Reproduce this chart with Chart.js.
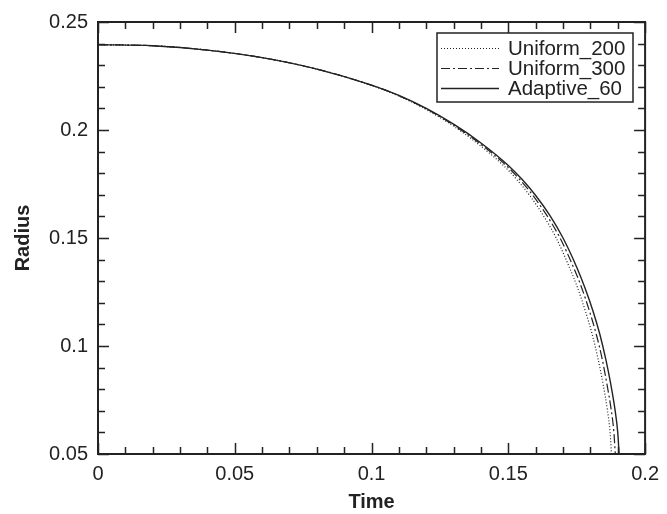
<!DOCTYPE html>
<html>
<head>
<meta charset="utf-8">
<script src="https://cdn.jsdelivr.net/npm/chart.js@4.4.1/dist/chart.umd.min.js"></script>
<style>
  html, body { margin: 0; padding: 0; background: #fff; }
  #wrap { width: 667px; height: 514px; }
</style>
</head>
<body>
<div id="wrap"><canvas id="radiusChart" width="667" height="514"></canvas></div>
<script>
// radius values shared by the three runs
const radius = [0.2395, 0.2390, 0.2370, 0.2335, 0.2282, 0.2208, 0.2160, 0.2100, 0.2027, 0.1940,
                0.1836, 0.1772, 0.1697, 0.1608, 0.1500, 0.1365, 0.1270, 0.1160, 0.1052, 0.0940,
                0.0820, 0.0705, 0.0600, 0.0500];

// time at which each run reaches the radius above
const timeUniform200 = [0, 0.02, 0.04, 0.06, 0.0799, 0.0997, 0.1095, 0.1192, 0.1289, 0.1385,
                        0.1482, 0.1530, 0.1578, 0.1626, 0.1675, 0.1723, 0.1753, 0.1782, 0.1807, 0.1828,
                        0.1847, 0.1862, 0.1872, 0.1877];
const timeUniform300 = [0, 0.02, 0.04, 0.06, 0.08, 0.0999, 0.1098, 0.1197, 0.1295, 0.1393,
                        0.1492, 0.1541, 0.1590, 0.1639, 0.1689, 0.1738, 0.1768, 0.1797, 0.1822, 0.1843,
                        0.1861, 0.1876, 0.1886, 0.1891];
const timeAdaptive60 = [0, 0.02, 0.04, 0.06, 0.08, 0.10, 0.11, 0.12, 0.13, 0.14,
                        0.15, 0.155, 0.16, 0.165, 0.17, 0.175, 0.178, 0.181, 0.1835, 0.1856,
                        0.1875, 0.189, 0.190, 0.1905];

const seriesLabels = ['Uniform_200', 'Uniform_300', 'Adaptive_60'];
const xTicks = [0, 0.05, 0.1, 0.15, 0.2];
const yTicks = [0.05, 0.1, 0.15, 0.2, 0.25];

const INK = '#222';
const FONT = '"Liberation Sans", Arial, Helvetica, sans-serif';

function toPoints(times) {
  return times.map((t, i) => ({ x: t, y: radius[i] }));
}

function fmt(v) {
  return String(Number(v.toFixed(2)));
}

// inward major/minor ticks on all four sides plus the frame
const frameTicks = {
  id: 'frameTicks',
  afterDraw(chart) {
    const { ctx, chartArea: a, scales } = chart;
    const xs = scales.x, ys = scales.y;
    ctx.save();
    ctx.strokeStyle = INK;
    ctx.lineWidth = 1.5;
    for (let i = 0; i <= 20; i++) {
      const len = i % 5 === 0 ? 11 : 7;
      const px = Math.round(xs.getPixelForValue(xs.min + i * 0.01)) + 0.5;
      ctx.beginPath();
      ctx.moveTo(px, a.bottom); ctx.lineTo(px, a.bottom - len);
      ctx.moveTo(px, a.top); ctx.lineTo(px, a.top + len);
      ctx.stroke();
      const py = Math.round(ys.getPixelForValue(ys.min + i * 0.01)) + 0.5;
      ctx.beginPath();
      ctx.moveTo(a.left, py); ctx.lineTo(a.left + len, py);
      ctx.moveTo(a.right, py); ctx.lineTo(a.right - len, py);
      ctx.stroke();
    }
    ctx.lineWidth = 2;
    ctx.strokeRect(a.left, a.top, a.right - a.left, a.bottom - a.top);
    ctx.restore();
  }
};

// boxed legend in the upper right corner
const boxLegend = {
  id: 'boxLegend',
  afterDraw(chart) {
    const { ctx } = chart;
    const left = 437, top = 33, width = 196, height = 69;
    ctx.save();
    ctx.fillStyle = '#fff';
    ctx.fillRect(left, top, width, height);
    ctx.strokeStyle = INK;
    ctx.lineWidth = 1.5;
    ctx.strokeRect(left, top, width, height);
    ctx.font = '20.5px ' + FONT;
    ctx.textBaseline = 'middle';
    chart.data.datasets.forEach((ds, i) => {
      const y = top + 15 + i * 20;
      ctx.beginPath();
      ctx.setLineDash(ds.borderDash || []);
      ctx.lineWidth = ds.borderWidth;
      ctx.strokeStyle = ds.borderColor;
      ctx.moveTo(left + 4, y + 0.5);
      ctx.lineTo(left + 62, y + 0.5);
      ctx.stroke();
      ctx.setLineDash([]);
      ctx.fillStyle = INK;
      ctx.fillText(ds.label, left + 71, y + 1);
    });
    ctx.restore();
  }
};

const lineStyles = [
  { borderDash: [1, 2], borderWidth: 1.2 },
  { borderDash: [9, 3, 2, 3], borderWidth: 1.2 },
  { borderDash: [], borderWidth: 1.4 }
];
const timeSeries = [timeUniform200, timeUniform300, timeAdaptive60];

new Chart(document.getElementById('radiusChart'), {
  type: 'scatter',
  data: {
    datasets: seriesLabels.map((label, i) => ({
      label: label,
      data: toPoints(timeSeries[i]),
      showLine: true,
      borderColor: INK,
      borderWidth: lineStyles[i].borderWidth,
      borderDash: lineStyles[i].borderDash,
      pointRadius: 0,
      cubicInterpolationMode: 'monotone',
      fill: false
    }))
  },
  options: {
    responsive: false,
    animation: false,
    layout: { padding: { top: 15, right: 15, left: 0, bottom: 0 } },
    plugins: {
      legend: { display: false },
      tooltip: { enabled: false }
    },
    scales: {
      x: {
        type: 'linear',
        min: 0,
        max: 0.2,
        afterBuildTicks: s => { s.ticks = xTicks.map(v => ({ value: v })); },
        afterFit: s => { s.height = 60; },
        grid: { display: false, drawTicks: false },
        border: { display: false },
        ticks: { color: INK, font: { family: FONT, size: 20 }, padding: 8, maxRotation: 0, callback: fmt },
        title: { display: true, text: 'Time', color: INK, font: { family: FONT, size: 20, weight: 'bold' }, padding: { top: 4, bottom: 0 } }
      },
      y: {
        type: 'linear',
        min: 0.05,
        max: 0.25,
        afterBuildTicks: s => { s.ticks = yTicks.map(v => ({ value: v })); },
        afterFit: s => { s.width = 98; },
        grid: { display: false, drawTicks: false },
        border: { display: false },
        ticks: { color: INK, font: { family: FONT, size: 20 }, padding: 10, callback: fmt },
        title: { display: true, text: 'Radius', color: INK, font: { family: FONT, size: 20, weight: 'bold' }, padding: { top: 11, bottom: 0 } }
      }
    }
  },
  plugins: [frameTicks, boxLegend]
});
</script>
</body>
</html>
